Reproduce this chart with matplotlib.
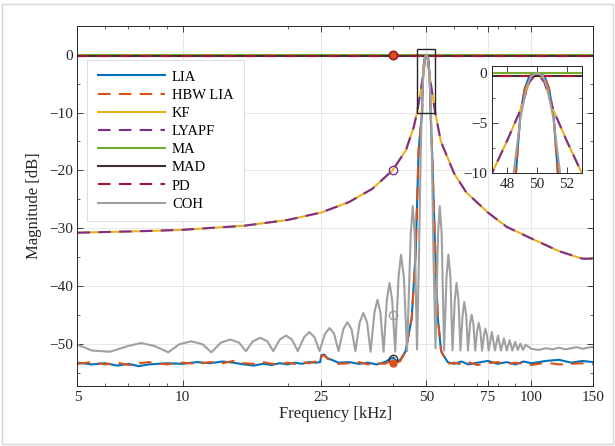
import matplotlib
matplotlib.use("Agg")
import matplotlib.pyplot as plt
from matplotlib.ticker import NullFormatter, MultipleLocator, FixedLocator, LogLocator
from matplotlib.patches import Rectangle

plt.rcParams["font.family"] = ["Liberation Serif", "DejaVu Serif"]

# --- data (frequency in kHz, magnitude in dB) ---
lia_f = [5, 5.5, 6, 6.5, 7, 7.5, 8, 9, 10, 11, 12, 13, 14, 15, 16, 17, 18, 19, 20,
         21, 22, 23, 24, 24.8, 25, 25.5, 26, 27, 28, 30, 32, 34, 36, 38, 39.5, 40.2,
         41, 42, 43.6, 45.4, 46.6, 47.5, 48.6, 48.9, 49.2, 49.5, 50, 50.5, 50.8, 51.1,
         51.4, 51.9, 53, 53.9, 55.1, 57.5, 60, 63, 66, 70, 75, 80, 85, 90, 95, 100,
         110, 120, 130, 140, 150]
lia_db = [-53.3, -53.6, -53.4, -53.8, -53.5, -53.9, -53.6, -53.4, -53.5, -53.2, -53.4,
          -53.1, -53.3, -53.6, -53.8, -53.5, -53.7, -53.4, -53.6, -53.3, -53.5, -53.2,
          -53.3, -53.2, -52.0, -51.9, -52.5, -52.9, -53.3, -53.2, -53.5, -53.3, -53.6,
          -53.2, -52.6, -52.4, -53.0, -52.9, -51.3, -45.5, -34.0, -16.5, -10.0, -4.0,
          -1.5, -0.3, 0.0, -0.3, -1.5, -4.0, -10.0, -16.5, -34.0, -45.5, -51.3, -53.2,
          -53.5, -53.1, -53.6, -53.3, -53.0, -53.5, -53.2, -53.6, -53.1, -53.4, -53.0,
          -52.8, -53.3, -53.0, -53.2]
hbw_db = [-53.5, -53.2, -53.6, -53.3, -53.7, -53.4, -53.2, -53.6, -53.3, -53.5, -53.2,
          -53.4, -53.0, -53.4, -53.5, -53.2, -53.5, -53.6, -53.3, -53.5, -53.2, -53.4,
          -53.1, -53.3, -52.2, -52.0, -52.6, -53.0, -53.5, -53.4, -53.2, -53.6, -53.4,
          -53.5, -53.0, -53.4, -53.2, -53.1, -51.3, -45.5, -34.0, -16.5, -10.0, -4.0,
          -1.5, -0.3, 0.0, -0.3, -1.5, -4.0, -10.0, -16.5, -34.0, -45.5, -51.3, -53.5,
          -53.3, -53.6, -53.2, -53.7, -53.4, -53.2, -53.6, -53.3, -53.5, -53.7, -53.3,
          -53.6, -53.5, -53.4, -53.6]

kf_f = [5, 8, 10, 15, 20, 25, 30, 35, 40, 43.7, 46, 47, 48, 48.9, 49.5, 50, 50.5,
        51.1, 52, 53, 55, 60, 65, 75, 85, 100, 120, 140, 150]
kf_db = [-30.8, -30.5, -30.3, -29.6, -28.6, -27.3, -25.5, -23.2, -20.0, -16.5, -12.5,
         -10.0, -6.8, -3.7, -0.9, 0.0, -0.9, -3.7, -6.8, -10.0, -15.0, -20.5, -23.8,
         -27.3, -29.8, -31.8, -34.0, -35.3, -35.3]

flat_f = [5, 150]
ma_db = [0.0, 0.0]
mad_db = [-0.3, -0.3]
pd_db = [-0.3, -0.3]

coh_f = [5, 5.5, 6.2, 7.0, 7.6, 8.3, 9.1, 9.8, 10.6, 11.4, 12.1, 12.9, 13.7, 14.5,
         15.2, 15.9, 16.7, 17.5, 18.2, 19.0, 19.8, 20.6, 21.4, 22.3, 23.1, 23.9, 24.7,
         25.6, 26.4, 27.2, 28.0, 28.9, 29.7, 30.5, 31.3, 32.2, 33.0, 33.8, 34.6, 35.5,
         36.2, 36.9, 37.7, 38.5, 39.2, 39.9, 40.7, 41.6, 42.3, 43.1, 44.0, 45.1, 45.7,
         46.3, 47.0, 47.6, 48.0, 48.45, 48.9, 49.3, 49.6, 50, 50.4, 50.7, 51.1, 51.55,
         52.0, 52.4, 53.1, 54.0, 54.6, 55.3, 56.2, 57.1, 57.8, 58.6, 59.4, 60.3, 61.0,
         61.8, 62.6, 63.5, 64.2, 65.0, 65.8, 66.7, 67.4, 68.2, 69.0, 69.9, 70.6, 71.4,
         72.2, 73.1, 73.8, 74.6, 75.4, 77.0, 78.6, 80.2, 81.8, 83.4, 85.0, 86.6, 88.2,
         89.8, 91.4, 93.0, 94.6, 96.2, 100, 105, 110, 115, 120, 125, 130, 135, 140,
         145, 150]
coh_db = [-50.2, -51.2, -51.4, -50.4, -49.9, -50.4, -51.5, -50.1, -49.6, -50.1, -51.5,
          -49.8, -49.3, -49.8, -51.3, -49.6, -49.0, -49.6, -51.3, -49.3, -48.6, -49.3,
          -51.3, -48.9, -48.0, -48.9, -51.3, -48.3, -47.3, -48.3, -51.3, -47.5, -46.3,
          -47.5, -51.3, -46.3, -44.7, -46.3, -51.4, -44.6, -42.4, -44.6, -51.4, -42.5,
          -39.5, -42.5, -51.4, -38.5, -34.6, -38.5, -51.3, -31.0, -26.2, -31.0, -51.0,
          -35.0, -22.0, -10.0, -4.5, -1.5, -0.3, 0.0, -0.3, -1.5, -4.5, -10.0, -22.0,
          -35.0, -50.8, -31.0, -26.2, -31.0, -51.2, -38.5, -34.6, -38.5, -51.2, -42.5,
          -39.5, -42.5, -51.2, -45.0, -42.8, -45.0, -51.2, -46.6, -45.0, -46.6, -51.2,
          -47.8, -46.4, -47.8, -51.2, -48.6, -47.4, -48.6, -51.2, -48.0, -51.2, -48.6,
          -51.2, -49.1, -51.2, -49.4, -51.2, -49.7, -51.1, -50.0, -51.1, -50.2, -50.9,
          -51.1, -50.8, -51.0, -50.7, -51.0, -50.8, -50.6, -50.9, -50.7, -50.6]

# markers at 40 kHz
mark_f = 40.2
mark_zero = 0.0
mark_kf = -20.0
mark_coh = -45.0
mark_mad = -52.6
mark_hbw = -53.4

xticks = [5, 10, 25, 50, 75, 100, 150]
yticks = [-50, -40, -30, -20, -10, 0]

c_lia = "#0072BD"
c_hbw = "#D95319"
c_kf = "#EDB120"
c_lya = "#7E2F8E"
c_ma = "#77AC30"
c_mad = "#3f2e2e"
c_pd = "#A2142F"
c_coh = "#a0a0a0"
dash = (6, 4)


def draw_curves(ax, lw=1.5):
    ax.plot(lia_f, lia_db, color=c_lia, lw=lw, label="LIA")
    ax.plot(lia_f, hbw_db, color=c_hbw, lw=lw, dashes=dash, label="HBW LIA")
    ax.plot(kf_f, kf_db, color=c_kf, lw=lw, label="KF")
    ax.plot(kf_f, kf_db, color=c_lya, lw=lw, dashes=dash, label="LYAPF")
    ax.plot(flat_f, ma_db, color=c_ma, lw=lw, label="MA")
    ax.plot(flat_f, mad_db, color=c_mad, lw=lw, label="MAD")
    ax.plot(flat_f, pd_db, color=c_pd, lw=lw, dashes=dash, label="PD")
    ax.plot(coh_f, coh_db, color=c_coh, lw=lw, label="COH")


def style_axes(ax):
    for s in ax.spines.values():
        s.set_color("#262626")
        s.set_linewidth(0.7)
    ax.tick_params(which="both", direction="in", top=True, right=True,
                   colors="#262626", labelcolor="#262626")
    ax.tick_params(which="major", length=4, width=0.6)
    ax.tick_params(which="minor", length=2.5, width=0.5)
    ax.grid(True, which="major", color="#e4e4e4", lw=0.6)
    ax.set_axisbelow(True)


fig = plt.figure(figsize=(6.15, 4.46), dpi=100)
ax = fig.add_axes([0.126, 0.135, 0.838, 0.807])

draw_curves(ax)
ax.plot([mark_f], [mark_zero], "o", ms=6, mfc=c_hbw, mec=c_pd, mew=1.2)
ax.plot([mark_f], [mark_kf], "o", ms=6, mfc="none", mec=c_lya, mew=1.0)
ax.plot([mark_f], [mark_coh], "o", ms=6, mfc="none", mec=c_coh, mew=1.0)
ax.plot([mark_f], [mark_mad], "o", ms=6, mfc="none", mec=c_mad, mew=1.0)
ax.plot([mark_f], [mark_hbw], "o", ms=5, mfc=c_hbw, mec=c_hbw, mew=1.0)

ax.add_patch(Rectangle((47, -10), 6, 11, fill=False, ec="#262626", lw=1.0, zorder=5))

ax.set_xscale("log")
ax.set_xlim(5, 150)
ax.set_ylim(-57.3, 5)
ax.xaxis.set_major_locator(FixedLocator(xticks))
ax.set_xticklabels([str(t) for t in xticks])
ax.xaxis.set_minor_locator(LogLocator(base=10, subs=range(2, 10)))
ax.xaxis.set_minor_formatter(NullFormatter())
ax.set_yticks(yticks)
ax.yaxis.set_minor_locator(MultipleLocator(5))
style_axes(ax)
ax.tick_params(labelsize=11)
ax.set_xlabel("Frequency [kHz]", fontsize=12, color="#262626", labelpad=2)
ax.set_ylabel("Magnitude [dB]", fontsize=12, color="#262626", labelpad=5)

leg = ax.legend(loc="upper left", bbox_to_anchor=(0.005, 0.925), fontsize=10.5,
                handlelength=4.6, handletextpad=0.5, labelspacing=0.34,
                borderpad=0.7, fancybox=False, framealpha=1, edgecolor="#d8d8d8")
leg.get_frame().set_linewidth(0.6)

# inset
axi = fig.add_axes([0.8, 0.612, 0.146, 0.240])
draw_curves(axi)
axi.set_xlim(47, 53)
axi.set_ylim(-10, 0.7)
axi.set_xticks([48, 50, 52])
axi.set_yticks([-10, -5, 0])
axi.yaxis.set_minor_locator(MultipleLocator(2.5))
style_axes(axi)
axi.grid(False)
axi.tick_params(labelsize=11)

fig.add_artist(Rectangle((0.004, 0.004), 0.992, 0.988, transform=fig.transFigure,
                         fill=False, ec="#d6d6d6", lw=1.0))

fig.savefig("out.png", dpi=100)
